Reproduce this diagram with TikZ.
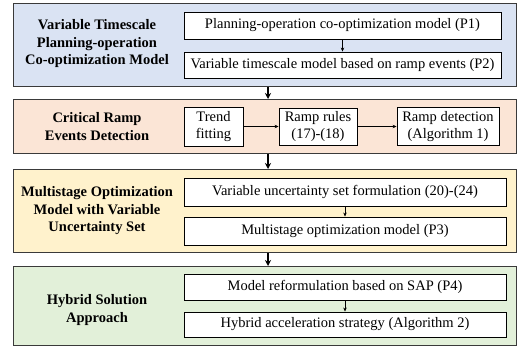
\documentclass[tikz,border=0pt]{standalone}
\usepackage{fontspec}
\setmainfont{Liberation Serif}
\usetikzlibrary{arrows.meta}
\definecolor{bluebg}{HTML}{DAE3F3}
\definecolor{orangebg}{HTML}{FBE5D6}
\definecolor{yellowbg}{HTML}{FFF2CC}
\definecolor{greenbg}{HTML}{E2F0D9}
\definecolor{framegray}{HTML}{3A3A3A}

\begin{document}
\begin{tikzpicture}[x=1pt,y=-1pt,
  stage/.style={draw=framegray, line width=1.4pt, inner sep=0pt, anchor=north west,
                minimum width=503pt},
  title/.style={font=\fontsize{14.5}{17.5}\selectfont\bfseries, align=center},
  item/.style={draw=black, line width=0.9pt, fill=white, inner sep=0pt, align=center,
               font=\fontsize{14.5}{16.5}\selectfont},
  thinarrow/.style={-{Stealth[length=4pt,width=3.5pt]}, line width=0.5pt},
  flowarrow/.style={-{Stealth[length=6pt,width=6pt]}, line width=1.6pt},
]
\useasboundingbox (0,0) rectangle (518,347);

% stage frames
\node[stage, fill=bluebg,   minimum height=83pt] (s1) at (13,3)   {};
\node[stage, fill=orangebg, minimum height=54pt] (s2) at (13,99)  {};
\node[stage, fill=yellowbg, minimum height=83pt] (s3) at (13,169) {};
\node[stage, fill=greenbg,  minimum height=79pt] (s4) at (13,266) {};

% stage titles
\node[title] (t1) at (97,44)    {Variable Timescale\\Planning-operation\\Co-optimization Model};
\node[title] (t2) at (97,126.5) {Critical Ramp\\Events Detection};
\node[title] (t3) at (97,211)   {Multistage Optimization\\Model with Variable\\Uncertainty Set};
\node[title] (t4) at (97,310)   {Hybrid Solution\\Approach};

% stage 1 contents
\node[item, minimum width=317pt, minimum height=27pt] (p1) at (342.5,25.5)
  {Planning-operation co-optimization model (P1)};
\node[item, minimum width=317pt, minimum height=26pt] (p2) at (342.5,65)
  {Variable timescale model based on ramp events (P2)};
\draw[thinarrow] (p1) -- (p2);

% stage 2 contents
\node[item, minimum width=59pt,  minimum height=39pt] (tf) at (213.5,126.5) {Trend\\fitting};
\node[item, minimum width=78pt,  minimum height=37pt] (rr) at (318,126.5)   {Ramp rules\\(17)-(18)};
\node[item, minimum width=102pt, minimum height=38pt] (rd) at (448,126.5)   {Ramp detection\\(Algorithm 1)};
\draw[thinarrow] (tf) -- (rr);
\draw[thinarrow] (rr) -- (rd);

% stage 3 contents
\node[item, minimum width=322pt, minimum height=28pt] (u1) at (345,192)
  {Variable uncertainty set formulation (20)-(24)};
\node[item, minimum width=322pt, minimum height=28pt] (u2) at (345,231)
  {Multistage optimization model (P3)};
\draw[thinarrow] (u1) -- (u2);

% stage 4 contents
\node[item, minimum width=322pt, minimum height=26pt] (h1) at (345,287)
  {Model reformulation based on SAP (P4)};
\node[item, minimum width=322pt, minimum height=25pt] (h2) at (345,324.5)
  {Hybrid acceleration strategy (Algorithm 2)};
\draw[thinarrow] (h1) -- (h2);

% flow between stages
\coordinate (ax) at (268,0);
\draw[flowarrow] (s1.south -| ax) -- (s2.north -| ax);
\draw[flowarrow] (s2.south -| ax) -- (s3.north -| ax);
\draw[flowarrow] (s3.south -| ax) -- (s4.north -| ax);
\end{tikzpicture}
\end{document}
